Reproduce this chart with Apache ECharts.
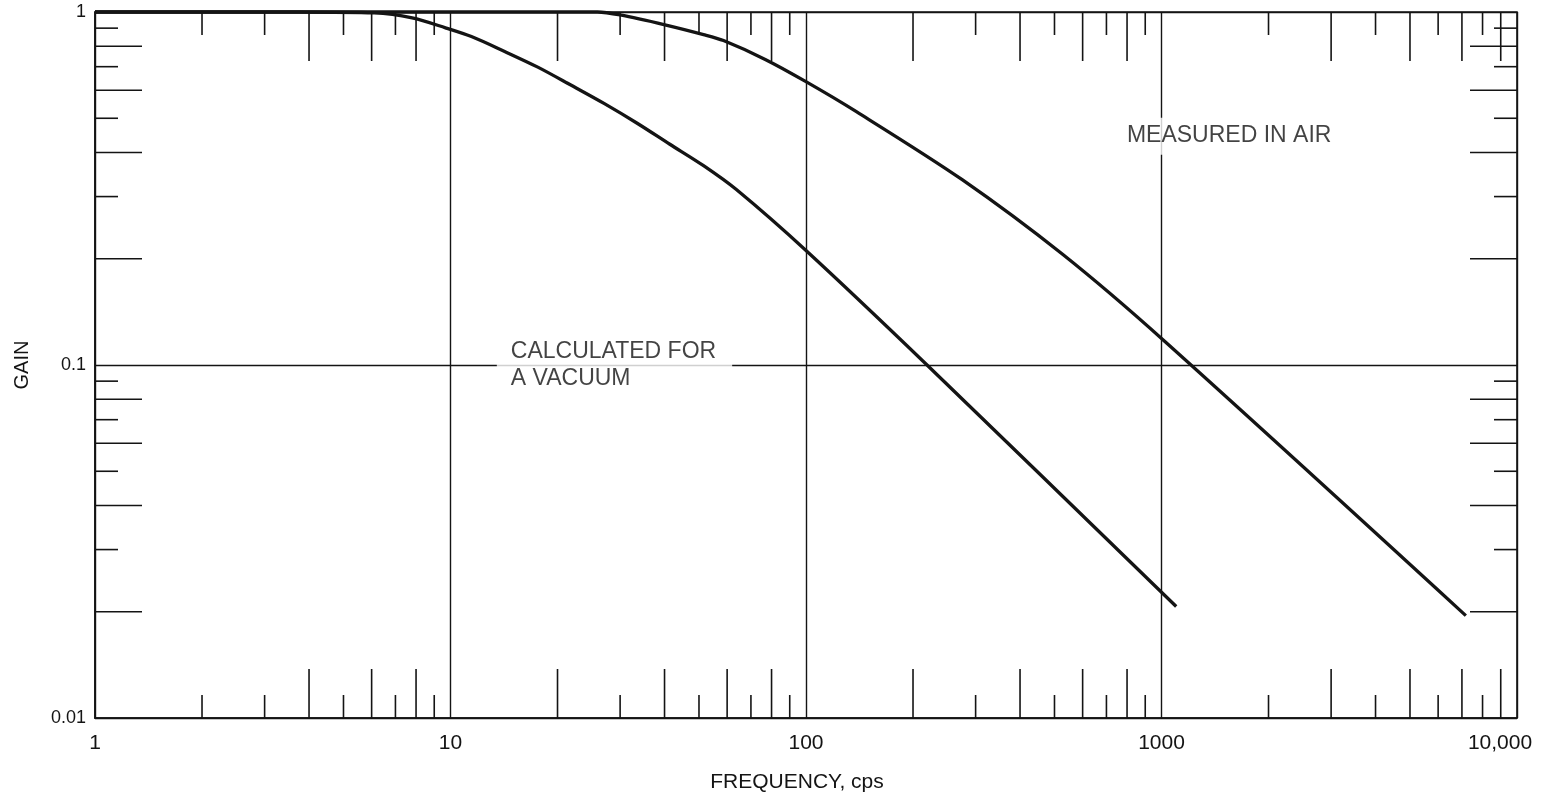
<!DOCTYPE html>
<html>
<head>
<meta charset="utf-8">
<script src="https://cdn.jsdelivr.net/npm/echarts@6/dist/echarts.min.js"></script>
<style>
  html, body { margin: 0; padding: 0; background: #ffffff; }
  #chart { width: 1568px; height: 799px; }
</style>
</head>
<body>
<div id="chart"></div>
<script>
// Axis tick labels (one per decade)
const frequencyTickLabels = ['1', '10', '100', '1000', '10,000'];
const gainTickLabels = ['0.01', '0.1', '1'];

// Gain vs frequency, calculated for a vacuum
const vacuumFreq = [1, 3.75, 6.1, 7.8, 9.68, 11.45, 14.2, 17.6, 21.8, 27.1, 33.5, 41.4, 51.5, 63.7, 100, 219, 1100];
const vacuumGain = [1, 1, 0.994, 0.962, 0.902, 0.852, 0.773, 0.698, 0.621, 0.55, 0.484, 0.422, 0.367, 0.314, 0.211, 0.1, 0.0207];

// Gain vs frequency, measured in air
const airFreq = [1, 25.9, 30, 40.1, 51.5, 58.6, 76.8, 99.4, 138.6, 275, 528, 1013, 7180];
const airGain = [1, 1, 0.981, 0.92, 0.863, 0.83, 0.734, 0.637, 0.522, 0.335, 0.2055, 0.1175, 0.0195];

// Hand-ruled intermediate ticks (drawn on both opposite edges)
const freqTicksLong = [4, 6, 8, 20, 40, 60, 80, 200, 400, 600, 800, 3000, 5000, 7000, 9000];
const freqTicksShort = [2, 3, 5, 7, 9, 30, 50, 70, 90, 300, 500, 700, 900, 2000, 4000, 6000, 8000];
const gainTicksLong = [0.8, 0.6, 0.4, 0.2, 0.08, 0.06, 0.04, 0.02];
const gainTicksShort = [0.9, 0.7, 0.5, 0.3, 0.09, 0.07, 0.05, 0.03];

const INK = '#141414';
const FONT = 'Liberation Sans';

const zip = (xs, ys) => xs.map((x, i) => [x, ys[i]]);
const decadeLabel = (labels, v, offset) => labels[Math.round(Math.log10(v)) + offset] || '';

function freqTickSeries(values, len) {
  return {
    type: 'custom',
    silent: true,
    data: values.map(v => [v, 1]),
    encode: { x: 0, y: 1 },
    renderItem: function (params, api) {
      const cs = params.coordSys;
      const x = api.coord([api.value(0), api.value(1)])[0];
      const bottom = cs.y + cs.height;
      const style = { stroke: INK, lineWidth: 1.6 };
      return {
        type: 'group',
        children: [
          { type: 'line', shape: { x1: x, y1: bottom, x2: x, y2: bottom - len }, style: style },
          { type: 'line', shape: { x1: x, y1: cs.y, x2: x, y2: cs.y + len }, style: style }
        ]
      };
    }
  };
}

function gainTickSeries(values, len) {
  return {
    type: 'custom',
    silent: true,
    data: values.map(v => [1, v]),
    encode: { x: 0, y: 1 },
    renderItem: function (params, api) {
      const cs = params.coordSys;
      const y = api.coord([api.value(0), api.value(1)])[1];
      const right = cs.x + cs.width;
      const style = { stroke: INK, lineWidth: 1.6 };
      return {
        type: 'group',
        children: [
          { type: 'line', shape: { x1: cs.x, y1: y, x2: cs.x + len, y2: y }, style: style },
          { type: 'line', shape: { x1: right, y1: y, x2: right - len, y2: y }, style: style }
        ]
      };
    }
  };
}

function curve(name, xs, ys) {
  return {
    name: name,
    type: 'line',
    data: zip(xs, ys),
    showSymbol: false,
    smooth: 0.3,
    clip: false,
    z: 5,
    lineStyle: { color: INK, width: 3.3 }
  };
}

function note(text, at) {
  return {
    type: 'scatter',
    silent: true,
    symbolSize: 0,
    z: 4,
    data: [at],
    label: {
      show: true,
      position: 'right',
      distance: 0,
      formatter: text,
      color: INK,
      fontFamily: FONT,
      fontSize: 23,
      lineHeight: 27,
      backgroundColor: '#ffffff',
      padding: [5, 16, 5, 14]
    }
  };
}

const chart = echarts.init(document.getElementById('chart'), null, { renderer: 'canvas' });

chart.setOption({
  backgroundColor: '#ffffff',
  animation: false,
  grid: {
    left: 95, right: 51, top: 12, bottom: 81,
    show: true,
    borderColor: INK,
    borderWidth: 1.6,
    backgroundColor: 'transparent'
  },
  xAxis: {
    type: 'log',
    logBase: 10,
    min: 1,
    max: 10000,
    name: 'FREQUENCY, cps',
    nameLocation: 'middle',
    nameGap: 54,
    nameTextStyle: { color: INK, fontFamily: FONT, fontSize: 21, padding: [0, 18, 0, 0] },
    axisLine: { show: true, lineStyle: { color: INK, width: 1.6 } },
    axisTick: { show: false },
    axisLabel: {
      color: INK, fontFamily: FONT, fontSize: 21, margin: 15,
      formatter: v => {
        const t = decadeLabel(frequencyTickLabels, v, 0);
        return v >= 10000 ? '{last|' + t + '}' : t;
      },
      rich: {
        last: { color: INK, fontFamily: FONT, fontSize: 21, padding: [0, 34, 0, 0] }
      }
    },
    splitLine: { show: true, lineStyle: { color: INK, width: 1.4 } }
  },
  yAxis: {
    type: 'log',
    logBase: 10,
    min: 0.01,
    max: 1,
    name: 'GAIN',
    nameLocation: 'middle',
    nameGap: 63,
    nameRotate: 90,
    nameTextStyle: { color: INK, fontFamily: FONT, fontSize: 20 },
    axisLine: { show: true, lineStyle: { color: INK, width: 1.6 } },
    axisTick: { show: false },
    axisLabel: {
      color: INK, fontFamily: FONT, fontSize: 18, margin: 9,
      formatter: v => decadeLabel(gainTickLabels, v, 2)
    },
    splitLine: { show: true, lineStyle: { color: INK, width: 1.4 } }
  },
  series: [
    freqTickSeries(freqTicksLong, 49),
    freqTickSeries(freqTicksShort, 23),
    gainTickSeries(gainTicksLong, 47),
    gainTickSeries(gainTicksShort, 23),
    note('CALCULATED FOR\nA VACUUM', [13.5, 0.1]),
    note('MEASURED IN AIR', [730, 0.445]),
    curve('Calculated for a vacuum', vacuumFreq, vacuumGain),
    curve('Measured in air', airFreq, airGain)
  ]
});
</script>
</body>
</html>
